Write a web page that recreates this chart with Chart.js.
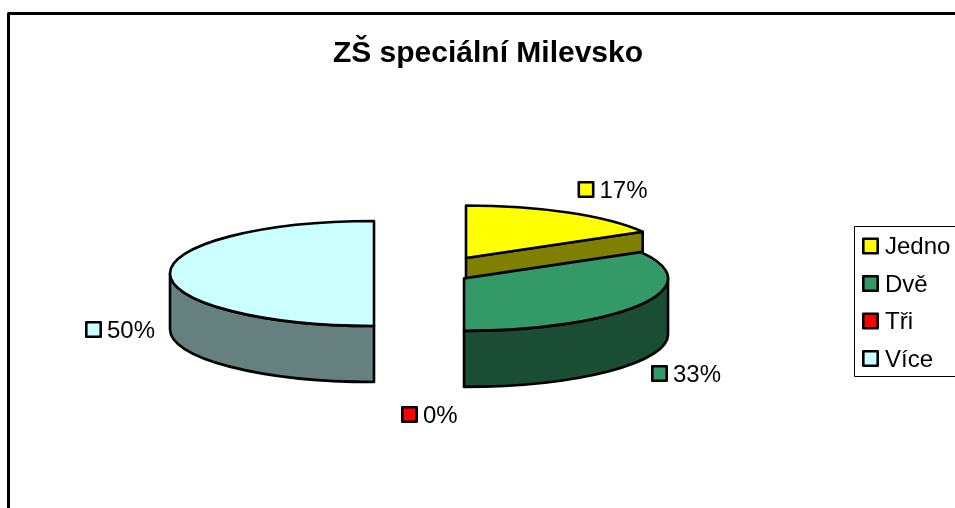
<!DOCTYPE html>
<html>
<head>
<meta charset="utf-8">
<style>html,body{margin:0;padding:0;background:#fff;overflow:hidden}canvas{display:block}</style>
<script src="https://cdn.jsdelivr.net/npm/chart.js@4"></script>
</head>
<body>
<canvas id="c" width="955" height="508"></canvas>
<script>
const titleText = 'ZŠ speciální Milevsko';
const categories = ['Jedno', 'Dvě', 'Tři', 'Více'];
const counts = [1, 2, 0, 3];
const topColors = ['#FFFF00', '#339966', '#FF0000', '#CCFFFF'];
const wallColors = ['#808000', '#1A4D33', '#800000', '#668080'];
const explode = [69.6, 37.9, 0, 57.2];

const RADIUS = 204, SQUASH = 52.5 / 204, DEPTH = 56, LINE = 2.6;
const FONT = '24px "Liberation Sans", Arial, sans-serif';
const labelSpots = [[586, 189.5], [659.5, 373.5], [409.5, 414.5], [93.5, 329.5]];
const legendSpots = [[870.5, 246], [870.5, 283.5], [870.5, 321], [870.5, 358.5]];

function midY(chart) { return (chart.chartArea.top + chart.chartArea.bottom) / 2; }
function centre(el, cy) { return { x: el.x, y: cy + (el.y - cy) * SQUASH }; }
function pointOn(c, a) {
  return { x: c.x + RADIUS * Math.cos(a), y: c.y + RADIUS * SQUASH * Math.sin(a) };
}
function paint(ctx, fill) {
  if (fill) { ctx.fillStyle = fill; ctx.fill(); }
  ctx.lineWidth = LINE; ctx.strokeStyle = '#000'; ctx.lineJoin = 'round'; ctx.stroke();
}
function drawWalls(ctx, el, cy, colour) {
  const c = centre(el, cy), s = el.startAngle, e = el.endAngle;
  // radial cut faces turned towards the viewer
  [[s, Math.cos(s) < -1e-6], [e, Math.cos(e) > 1e-6]].forEach(([a, visible]) => {
    if (!visible) return;
    const p = pointOn(c, a);
    ctx.beginPath();
    ctx.moveTo(c.x, c.y); ctx.lineTo(p.x, p.y);
    ctx.lineTo(p.x, p.y + DEPTH); ctx.lineTo(c.x, c.y + DEPTH);
    ctx.closePath();
    paint(ctx, colour);
  });
  // outer wall: only the front half of the rim
  const a0 = Math.max(s, 0), a1 = Math.min(e, Math.PI);
  if (a1 > a0) {
    ctx.beginPath();
    ctx.ellipse(c.x, c.y, RADIUS, RADIUS * SQUASH, 0, a0, a1);
    ctx.ellipse(c.x, c.y + DEPTH, RADIUS, RADIUS * SQUASH, 0, a1, a0, true);
    ctx.closePath();
    paint(ctx, colour);
  }
}
function swatch(ctx, cx, cy, colour, text, textX) {
  ctx.fillStyle = colour;
  ctx.fillRect(cx - 7.2, cy - 7.2, 14.4, 14.4);
  ctx.lineWidth = 2.6; ctx.strokeStyle = '#000';
  ctx.strokeRect(cx - 7.2, cy - 7.2, 14.4, 14.4);
  ctx.fillStyle = '#000'; ctx.font = FONT;
  ctx.textAlign = 'left'; ctx.textBaseline = 'middle';
  ctx.fillText(text, textX, cy + 1.5);
}

const pie3d = {
  id: 'pie3d',
  afterLayout(chart) {
    const t = chart.titleBlock;
    t.left = 21; t.right = 955;
  },
  afterDatasetsUpdate(chart) {
    // pull the slices out of the pie along their middle angle
    chart.getDatasetMeta(0).data.forEach((el, i) => {
      const mid = (el.startAngle + el.endAngle) / 2;
      el.x += Math.cos(mid) * explode[i];
      el.y += Math.sin(mid) * explode[i];
    });
  },
  beforeDatasetsDraw(chart) {
    const ctx = chart.ctx, arcs = chart.getDatasetMeta(0).data, cy = midY(chart);
    arcs.forEach((el, i) => { if (el.circumference > 0) drawWalls(ctx, el, cy, wallColors[i]); });
    ctx.save();
    ctx.translate(0, cy); ctx.scale(1, SQUASH); ctx.translate(0, -cy);
  },
  afterDatasetsDraw(chart) {
    const ctx = chart.ctx, arcs = chart.getDatasetMeta(0).data, cy = midY(chart);
    ctx.restore();
    arcs.forEach(el => {
      if (!(el.circumference > 0)) return;
      const c = centre(el, cy);
      ctx.beginPath();
      ctx.moveTo(c.x, c.y);
      ctx.ellipse(c.x, c.y, RADIUS, RADIUS * SQUASH, 0, el.startAngle, el.endAngle);
      ctx.closePath();
      paint(ctx);
    });
  },
  afterDraw(chart) {
    const ctx = chart.ctx;
    ctx.save();
    // outer chart frame
    ctx.lineWidth = 3; ctx.strokeStyle = '#000';
    ctx.strokeRect(8.5, 13.5, 1100, 700);
    // data labels
    const total = counts.reduce((a, b) => a + b, 0);
    counts.forEach((v, i) => {
      const [x, y] = labelSpots[i];
      swatch(ctx, x, y, topColors[i], Math.round(v / total * 100) + '%', x + 13.5);
    });
    // legend
    ctx.fillStyle = '#fff'; ctx.fillRect(854.5, 226.5, 120, 150);
    ctx.lineWidth = 1; ctx.strokeStyle = '#000'; ctx.strokeRect(854.5, 226.5, 120, 150);
    categories.forEach((name, i) => {
      const [x, y] = legendSpots[i];
      swatch(ctx, x, y, topColors[i], name, x + 14.5);
    });
    ctx.restore();
  }
};

new Chart(document.getElementById('c'), {
  type: 'pie',
  data: {
    labels: categories,
    datasets: [{
      data: counts,
      backgroundColor: topColors,
      borderWidth: 0,
      clip: false
    }]
  },
  plugins: [pie3d],
  options: {
    responsive: false,
    animation: false,
    events: [],
    radius: RADIUS,
    layout: { padding: { left: 0, right: 92.6, top: 0, bottom: 33 } },
    plugins: {
      legend: { display: false },
      tooltip: { enabled: false },
      title: {
        display: true,
        text: titleText,
        color: '#000',
        font: { family: '"Liberation Sans", Arial, sans-serif', size: 30, weight: 'bold' },
        padding: { top: 36, bottom: 0 }
      }
    }
  }
});
</script>
</body>
</html>
